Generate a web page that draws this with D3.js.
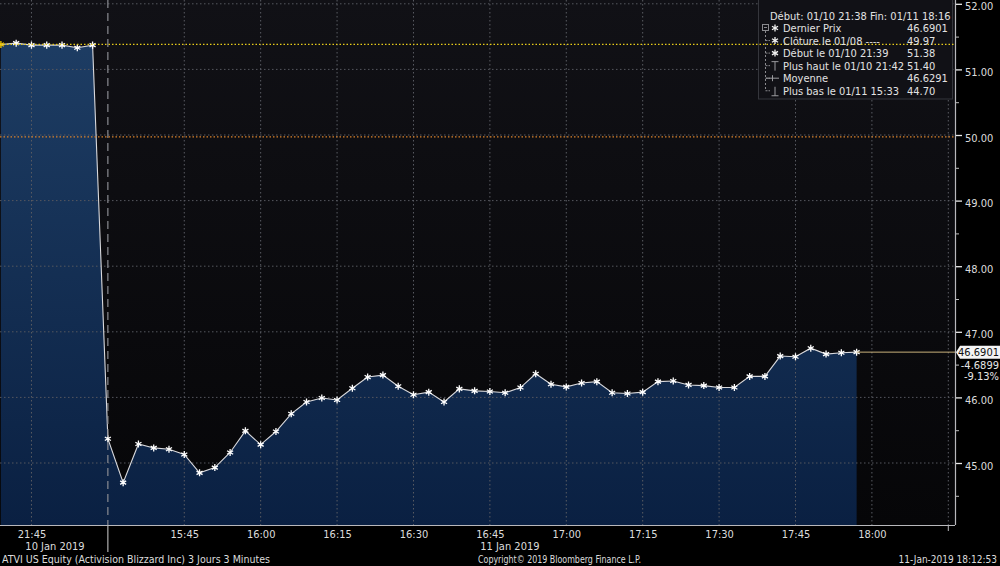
<!DOCTYPE html>
<html><head><meta charset="utf-8">
<script src="https://cdn.jsdelivr.net/npm/d3@7"></script>
<style>
html,body{margin:0;padding:0;background:#000;}
svg{display:block;}
text{font-family:"DejaVu Sans Condensed","Liberation Sans",Arial,sans-serif;}
</style>
</head><body>
<svg id="c" width="1000" height="566"></svg>
<script>
// ---- data ----
const times = ["21:39","21:42","21:45","21:48","21:51","21:54","21:57",
  "15:30","15:33","15:36","15:39","15:42","15:45","15:48","15:51","15:54","15:57",
  "16:00","16:03","16:06","16:09","16:12","16:15","16:18","16:21","16:24","16:27",
  "16:30","16:33","16:36","16:39","16:42","16:45","16:48","16:51","16:54","16:57",
  "17:00","17:03","17:06","17:09","17:12","17:15","17:18","17:21","17:24","17:27",
  "17:30","17:33","17:36","17:39","17:42","17:45","17:48","17:51","17:54","17:57"];
const prices = [51.38,51.40,51.37,51.37,51.37,51.33,51.37,
  45.37,44.70,45.29,45.23,45.21,45.13,44.85,44.93,45.16,45.49,
  45.28,45.48,45.75,45.93,45.99,45.96,46.14,46.31,46.34,46.17,
  46.04,46.08,45.93,46.13,46.10,46.09,46.07,46.15,46.36,46.20,
  46.16,46.22,46.24,46.07,46.06,46.08,46.24,46.25,46.19,46.18,
  46.15,46.15,46.32,46.32,46.63,46.62,46.75,46.66,46.68,46.6901];
const tickIndex = [2,12,17,22,27,32,37,42,47,52,57,62];
const tickLabels = ["21:45","15:45","16:00","16:15","16:30","16:45","17:00","17:15","17:30","17:45","18:00",""];
const dayStartIndex = 7;
const dayLabels = ["10 Jan 2019","11 Jan 2019"];
const priceTicks = [45,46,47,48,49,50,51,52];
const priceMinorTicks = [44.5,45.5,46.5,47.5,48.5,49.5,50.5,51.5];
const closeLevel = 49.97;
const openLevel = 51.38;
const legendHeader = "Début: 01/10 21:38 Fin: 01/11 18:16";
const legendLabels = ["Dernier Prix","Clôture le 01/08 ----","Début le 01/10 21:39","Plus haut le 01/10 21:42","Moyenne","Plus bas le 01/11 15:33"];
const legendValues = ["46.6901","49.97","51.38","51.40","46.6291","44.70"];
const legendIcons = ["star","star","star","high","avg","low"];
const footerLeft = "ATVI US Equity (Activision Blizzard Inc) 3 Jours 3 Minutes";
const footerMid = "Copyright\u00A9 2019 Bloomberg Finance L.P.";
const footerRight = "11-Jan-2019 18:12:53";

// ---- layout ----
const svg = d3.select("#c");
const plotRight = 955, plotBottom = 525;
const x = d3.scaleLinear().domain([0, 62]).range([0.9, 948.3]);
const y = d3.scaleLinear().domain([45, 52]).range([463, 3.8]);

const defs = svg.append("defs");
const bg = defs.append("linearGradient").attr("id","bg").attr("x1",0).attr("y1",0).attr("x2",0).attr("y2",1);
bg.append("stop").attr("offset","0%").attr("stop-color","#111116");
bg.append("stop").attr("offset","100%").attr("stop-color","#060608");
const ag = defs.append("linearGradient").attr("id","ag").attr("gradientUnits","userSpaceOnUse")
  .attr("x1",0).attr("y1",0).attr("x2",0).attr("y2",plotBottom);
ag.append("stop").attr("offset","0%").attr("stop-color","#1f3f66");
ag.append("stop").attr("offset","100%").attr("stop-color","#0a2042");
defs.append("clipPath").attr("id","clip").append("rect")
  .attr("x",0).attr("y",0).attr("width",plotRight).attr("height",plotBottom);

svg.append("rect").attr("width",1000).attr("height",566).attr("fill","#000");
svg.append("rect").attr("x",0).attr("y",0).attr("width",plotRight).attr("height",plotBottom).attr("fill","url(#bg)");

const plot = svg.append("g").attr("clip-path","url(#clip)");

// area
const area = d3.area().x((d,i)=>x(i)).y0(plotBottom).y1(d=>y(d));
plot.append("path").datum(prices).attr("d",area).attr("fill","url(#ag)");

// grid
plot.selectAll(".hg").data(priceTicks).join("line")
  .attr("x1",0).attr("x2",plotRight).attr("y1",d=>y(d)).attr("y2",d=>y(d))
  .attr("stroke","#55575e").attr("stroke-width",1).attr("stroke-dasharray","1.5,2.5");
plot.selectAll(".vg").data(tickIndex).join("line")
  .attr("x1",d=>x(d)).attr("x2",d=>x(d)).attr("y1",0).attr("y2",plotBottom)
  .attr("stroke","#5a5c63").attr("stroke-width",1).attr("stroke-dasharray","1.5,2.5");

// day separator
svg.append("line").attr("x1",x(dayStartIndex)).attr("x2",x(dayStartIndex)).attr("y1",0).attr("y2",plotBottom)
  .attr("stroke","#8a8c92").attr("stroke-width",1.2).attr("stroke-dasharray","8,5");
svg.append("line").attr("x1",x(dayStartIndex)).attr("x2",x(dayStartIndex)).attr("y1",plotBottom).attr("y2",552)
  .attr("stroke","#b0b0b0").attr("stroke-width",1.2);

// legend box background
svg.append("rect").attr("x",758.5).attr("y",-1).attr("width",194).attr("height",100)
  .attr("fill","#111116").attr("stroke","#35363c").attr("stroke-width",1);

// reference lines
svg.append("line").attr("x1",0).attr("x2",plotRight).attr("y1",y(closeLevel)).attr("y2",y(closeLevel))
  .attr("stroke","#d9822b").attr("stroke-width",1.2).attr("stroke-dasharray","1.5,2");
svg.append("line").attr("x1",0).attr("x2",plotRight).attr("y1",y(openLevel)).attr("y2",y(openLevel))
  .attr("stroke","#e8cc1a").attr("stroke-width",1.2).attr("stroke-dasharray","1.5,2");

// price line
const last = prices[prices.length-1];
svg.append("line").attr("x1",x(prices.length-1)).attr("x2",plotRight).attr("y1",y(last)).attr("y2",y(last))
  .attr("stroke","#c9b27c").attr("stroke-width",1);

// series line
const line = d3.line().x((d,i)=>x(i)).y(d=>y(d));
plot.append("path").datum(prices).attr("d",line).attr("fill","none")
  .attr("stroke","#d9d9dc").attr("stroke-width",1.1);

const star = d3.symbol().type(d3.symbolAsterisk).size(34);
plot.selectAll(".mk").data(prices).join("path")
  .attr("d",star).attr("transform",(d,i)=>`translate(${x(i)},${y(d)})`)
  .attr("fill","none").attr("stroke",(d,i)=>i===0?"#f2c500":"#ffffff").attr("stroke-width",1.3);

// axes lines
svg.append("line").attr("x1",0).attr("x2",plotRight).attr("y1",plotBottom+0.5).attr("y2",plotBottom+0.5)
  .attr("stroke","#b8b8bc").attr("stroke-width",1.2);
svg.append("line").attr("x1",plotRight+0.5).attr("x2",plotRight+0.5).attr("y1",0).attr("y2",plotBottom)
  .attr("stroke","#b8b8bc").attr("stroke-width",1.2);

// right axis
const ya = svg.append("g").attr("transform",`translate(${plotRight+1},0)`)
  .call(d3.axisRight(y).tickValues(priceTicks).tickSize(6).tickPadding(3).tickFormat(d3.format(".2f")));
ya.select(".domain").remove();
ya.selectAll(".tick line").attr("stroke","#e8e8e8").attr("stroke-width",1.3);
ya.selectAll(".tick text").attr("fill","#dcdcdc").attr("font-size","11px").attr("dy","0.55em")
  .attr("font-family","DejaVu Sans Condensed, Liberation Sans, Arial, sans-serif");
const ym = svg.append("g").attr("transform",`translate(${plotRight+1},0)`)
  .call(d3.axisRight(y).tickValues(priceMinorTicks).tickSize(3).tickFormat(""));
ym.select(".domain").remove();
ym.selectAll(".tick line").attr("stroke","#bdbdbd");

// bottom axis
const xa = svg.append("g").attr("transform",`translate(0,${plotBottom})`)
  .call(d3.axisBottom(x).tickValues(tickIndex).tickSize(0).tickPadding(5).tickFormat((d,i)=>tickLabels[i]));
xa.select(".domain").remove();
xa.selectAll(".tick text").attr("fill","#dcdcdc").attr("font-size","11px")
  .attr("font-family","DejaVu Sans Condensed, Liberation Sans, Arial, sans-serif");
svg.append("line").attr("x1",x(62)).attr("x2",x(62)).attr("y1",plotBottom).attr("y2",plotBottom+6)
  .attr("stroke","#b8b8bc");

// day labels
svg.append("text").attr("x",55).attr("y",550).attr("text-anchor","middle")
  .attr("fill","#dcdcdc").attr("font-size","11px").text(dayLabels[0]);
svg.append("text").attr("x",x(32)+20).attr("y",550).attr("text-anchor","middle")
  .attr("fill","#dcdcdc").attr("font-size","11px").text(dayLabels[1]);

// footers
svg.append("text").attr("x",2).attr("y",562.5).attr("fill","#dcdcdc").attr("font-size","11px")
  .attr("textLength",268).attr("lengthAdjust","spacingAndGlyphs").text(footerLeft);
svg.append("text").attr("x",478).attr("y",562.5).attr("fill","#dcdcdc").attr("font-size","11px")
  .attr("textLength",163).attr("lengthAdjust","spacingAndGlyphs").text(footerMid);
svg.append("text").attr("x",997).attr("y",562.5).attr("text-anchor","end").attr("fill","#dcdcdc").attr("font-size","10px")
  .text(footerRight);

// price label
const yl = y(last);
svg.append("path").attr("d",`M${plotRight+1},${yl} L${plotRight+5},${yl-6.5} L1000,${yl-6.5} L1000,${yl+6.5} L${plotRight+5},${yl+6.5} Z`)
  .attr("fill","#f4f4f4");
svg.append("text").attr("x",999).attr("y",yl+4).attr("text-anchor","end").attr("fill","#111")
  .attr("font-size","11px").text(d3.format(".4f")(last));
const chg = last - openLevel;
svg.append("text").attr("x",999).attr("y",yl+16.5).attr("text-anchor","end").attr("fill","#e6e6e6")
  .attr("font-size","11px").text(d3.format(".4f")(chg).replace("\u2212","-"));
svg.append("text").attr("x",999).attr("y",yl+28).attr("text-anchor","end").attr("fill","#e6e6e6")
  .attr("font-size","11px").text((chg/openLevel*100).toFixed(2)+"%");

// legend content
const lt = svg.append("g").attr("fill","#e2e2e2").attr("font-size","11px");
lt.append("text").attr("x",770).attr("y",19.5).text(legendHeader);
const rowY = i => 28 + 12.55*i;
lt.selectAll(".ll").data(legendLabels).join("text")
  .attr("x",783).attr("y",(d,i)=>rowY(i)+4).text(d=>d);
lt.selectAll(".lv").data(legendValues).join("text")
  .attr("x",907).attr("y",(d,i)=>rowY(i)+4).text(d=>d);
// tree
const tree = svg.append("g").attr("stroke","#8a8a8e").attr("fill","none").attr("stroke-width",1);
tree.append("rect").attr("x",762.5).attr("y",rowY(0)-3.5).attr("width",6).attr("height",6);
tree.append("line").attr("x1",764).attr("x2",767).attr("y1",rowY(0)-0.5).attr("y2",rowY(0)-0.5);
tree.append("line").attr("x1",765.5).attr("x2",765.5).attr("y1",rowY(0)+3).attr("y2",rowY(5))
  .attr("stroke-dasharray","2,2");
tree.selectAll(".stub").data(legendLabels.slice(1)).join("line")
  .attr("x1",765.5).attr("x2",770).attr("y1",(d,i)=>rowY(i+1)).attr("y2",(d,i)=>rowY(i+1))
  .attr("stroke-dasharray","2,1");
const icons = svg.append("g");
legendIcons.forEach((t,i)=>{
  const cy = rowY(i), cx = 775;
  if (t==="star") {
    icons.append("path").attr("d",d3.symbol().type(d3.symbolAsterisk).size(34)())
      .attr("transform",`translate(${cx},${cy})`).attr("stroke","#f0f0f0").attr("stroke-width",1.3).attr("fill","none");
  } else if (t==="high") {
    icons.append("path").attr("d",`M${cx-3.5},${cy-4} H${cx+3.5} M${cx},${cy-4} V${cy+5}`)
      .attr("stroke","#9a9a9e").attr("fill","none");
  } else if (t==="low") {
    icons.append("path").attr("d",`M${cx-3.5},${cy+5} H${cx+3.5} M${cx},${cy-4} V${cy+5}`)
      .attr("stroke","#9a9a9e").attr("fill","none");
  } else {
    icons.append("path").attr("d",`M${cx-9},${cy} H${cx+4} M${cx-2.5},${cy-3} V${cy+3}`)
      .attr("stroke","#9a9a9e").attr("fill","none");
  }
});
</script>
</body></html>
